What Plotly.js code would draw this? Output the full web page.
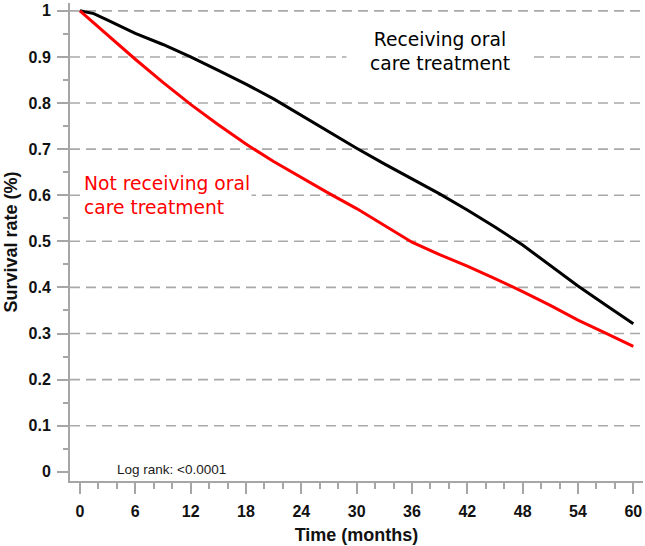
<!DOCTYPE html>
<html>
<head>
<meta charset="utf-8">
<script src="https://cdn.plot.ly/plotly-3.0.1.min.js"></script>
<style>html,body{margin:0;padding:0;background:#fff;}#chart{width:645px;height:546px;}</style>
</head>
<body>
<div id="chart"></div>
<script>
// Months
var monthsOral = [0, 1.5, 3, 4.5, 6, 9, 12, 15, 18, 21, 24, 27, 30, 33, 36, 39, 42, 45, 48, 51, 54, 57, 60];
var survivalOral = [1.0, 0.994, 0.98, 0.966, 0.951, 0.927, 0.9, 0.871, 0.841, 0.809, 0.773, 0.738, 0.702, 0.668, 0.635, 0.603, 0.568, 0.531, 0.492, 0.448, 0.403, 0.362, 0.321];
var monthsNoOral = [0, 3, 6, 9, 12, 15, 18, 21, 24, 27, 30, 33, 36, 39, 42, 45, 48, 51, 54, 57, 60];
var survivalNoOral = [1.0, 0.947, 0.895, 0.845, 0.797, 0.753, 0.711, 0.673, 0.638, 0.604, 0.571, 0.535, 0.498, 0.471, 0.446, 0.419, 0.391, 0.361, 0.329, 0.301, 0.272];

var xTickVals = [0, 6, 12, 18, 24, 30, 36, 42, 48, 54, 60];
var xTickText = ["0", "6", "12", "18", "24", "30", "36", "42", "48", "54", "60"];
var xMinorVals = [2, 4, 8, 10, 14, 16, 20, 22, 26, 28, 32, 34, 38, 40, 44, 46, 50, 52, 56, 58];
var yTickVals = [0, 0.1, 0.2, 0.3, 0.4, 0.5, 0.6, 0.7, 0.8, 0.9, 1];
var yTickText = ["0", "0.1", "0.2", "0.3", "0.4", "0.5", "0.6", "0.7", "0.8", "0.9", "1"];
var yMinorVals = [0.05, 0.15, 0.25, 0.35, 0.45, 0.55, 0.65, 0.75, 0.85, 0.95];
var gridVals = [0.1, 0.2, 0.3, 0.4, 0.5, 0.6, 0.7, 0.8, 0.9, 1];

var labelOral = "Receiving oral<br>care treatment";
var labelNoOral = "Not receiving oral<br>care treatment";
var logRankText = "Log rank: <0.0001";

var axisGray = "#a6a6a6";
var gridGray = "#a9a9a9";

var traces = [
  {x: monthsOral, y: survivalOral, type: "scatter", mode: "lines",
   line: {color: "#000000", width: 3}, hoverinfo: "skip", showlegend: false},
  {x: monthsNoOral, y: survivalNoOral, type: "scatter", mode: "lines",
   line: {color: "#ff0000", width: 3}, hoverinfo: "skip", showlegend: false}
];

var shapes = gridVals.map(function (g) {
  return {type: "line", xref: "paper", yref: "y", x0: 0, x1: 1, y0: g, y1: g,
          layer: "below", line: {color: gridGray, width: 1.6, dash: "10px,6px"}};
});

var tickFont = {family: "Liberation Sans, Arial, sans-serif", size: 16, color: "#111111", weight: "bold"};

var layout = {
  width: 645, height: 546,
  margin: {l: 70, r: 2, t: 3, b: 65},
  paper_bgcolor: "#ffffff", plot_bgcolor: "#ffffff",
  showlegend: false,
  xaxis: {
    range: [-1.08, 61.05], showgrid: false, zeroline: false,
    showline: true, linecolor: axisGray, linewidth: 2,
    tickmode: "array", tickvals: xTickVals, ticktext: xTickText,
    ticks: "outside", ticklen: 11, tickwidth: 2, tickcolor: axisGray,
    ticklabelstandoff: 4,
    minor: {tickmode: "array", tickvals: xMinorVals, ticks: "outside", ticklen: 6, tickwidth: 2, tickcolor: axisGray, showgrid: false},
    tickfont: tickFont,
    title: {text: "Time (months)", font: {family: "Liberation Sans, Arial, sans-serif", size: 18, color: "#111111", weight: "bold"}, standoff: 9}
  },
  yaxis: {
    range: [-0.02, 1.017], showgrid: false, zeroline: false,
    showline: true, linecolor: axisGray, linewidth: 2,
    tickmode: "array", tickvals: yTickVals, ticktext: yTickText,
    ticks: "outside", ticklen: 11, tickwidth: 2, tickcolor: axisGray,
    ticklabelstandoff: 3,
    minor: {tickmode: "array", tickvals: yMinorVals, ticks: "outside", ticklen: 5, tickwidth: 2, tickcolor: axisGray, showgrid: false},
    tickfont: tickFont,
    title: {text: "Survival rate (%)", font: {family: "Liberation Sans, Arial, sans-serif", size: 18, color: "#111111", weight: "bold"}, standoff: 6}
  },
  shapes: shapes,
  annotations: [
    {x: 39.0, y: 0.912, xref: "x", yref: "y", text: labelOral, showarrow: false,
     xanchor: "center", yanchor: "middle", align: "center", width: 182,
     bgcolor: "#ffffff", borderpad: 2,
     font: {family: "DejaVu Sans, sans-serif", size: 18.7, color: "#000000"}},
    {x: 0.2, y: 0.6, xref: "x", yref: "y", text: labelNoOral, showarrow: false,
     xanchor: "left", yanchor: "middle", align: "left",
     bgcolor: "#ffffff", borderpad: 1,
     font: {family: "DejaVu Sans, sans-serif", size: 18.7, color: "#ff0000"}},
    {x: 9.9, y: 0.006, xref: "x", yref: "y", text: logRankText, showarrow: false,
     xanchor: "center", yanchor: "middle",
     font: {family: "Liberation Sans, Arial, sans-serif", size: 13.5, color: "#1a1a1a"}}
  ]
};

Plotly.newPlot("chart", traces, layout, {staticPlot: true, displayModeBar: false});
</script>
</body>
</html>
